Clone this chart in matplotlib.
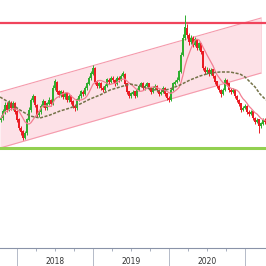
import numpy as np
import pandas as pd
import matplotlib
matplotlib.use("Agg")
import matplotlib.pyplot as plt

# ---- data ----
close = [18.2, 18.8, 19.5, 19.0, 19.7, 19.2, 19.6, 18.8, 18.0, 17.2,
         16.8, 16.2, 16.7, 18.0, 19.0, 20.0, 20.3, 19.5, 18.5, 18.8,
         19.4, 19.8, 19.2, 19.6, 20.0, 19.6, 21.2, 21.8, 20.8, 20.5,
         20.8, 20.3, 20.6, 20.0, 20.4, 19.8, 19.4, 19.2, 20.0, 20.4,
         20.8, 20.6, 21.2, 21.6, 22.2, 22.6, 23.2, 21.8, 21.4, 21.6,
         21.2, 21.0, 21.4, 22.0, 21.8, 22.2, 22.0, 21.6, 22.2, 22.0,
         22.4, 22.6, 21.6, 20.8, 20.4, 20.6, 20.8, 20.4, 21.0, 21.4,
         21.6, 21.2, 21.4, 21.6, 21.2, 20.8, 21.2, 21.4, 21.0, 20.6,
         20.8, 21.2, 20.6, 20.2, 20.0, 21.0, 21.6, 21.8, 22.0, 22.8,
         24.5, 26.2, 27.2, 26.5, 25.8, 26.2, 25.5, 26.0, 25.2, 25.6,
         24.8, 23.2, 22.8, 23.0, 22.6, 23.0, 22.4, 21.8, 21.4, 21.0,
         20.6, 21.0, 22.0, 21.6, 21.0, 20.8, 21.0, 20.4, 20.0, 19.6,
         19.0, 19.2, 19.4, 18.8, 18.6, 18.8, 18.2, 17.8, 18.0, 17.4,
         17.6, 18.0, 17.8]
high = [18.5, 19.1, 19.8, 19.8, 20.0, 19.9, 19.9, 19.8, 19.0, 18.2,
        17.4, 17.0, 16.9, 18.2, 19.3, 20.2, 20.6, 20.4, 19.6, 19.0,
        19.6, 20.1, 19.9, 19.8, 20.3, 20.1, 21.5, 22.1, 21.9, 21.0,
        21.0, 21.0, 20.8, 20.7, 20.6, 20.5, 20.0, 19.6, 20.2, 20.6,
        21.0, 21.0, 21.4, 21.8, 22.4, 22.9, 23.5, 23.3, 22.0, 21.8,
        21.8, 21.4, 21.6, 22.2, 22.2, 22.4, 22.4, 22.1, 22.4, 22.4,
        22.6, 22.9, 22.7, 21.7, 20.9, 20.8, 21.0, 20.9, 21.2, 21.6,
        21.8, 21.8, 21.6, 21.8, 21.7, 21.3, 21.4, 21.6, 21.5, 21.1,
        21.0, 21.4, 21.3, 20.7, 20.4, 21.2, 21.8, 22.0, 22.3, 23.0,
        24.8, 26.6, 28.5, 27.6, 26.7, 26.5, 26.4, 26.3, 26.1, 25.8,
        25.7, 24.9, 23.4, 23.3, 23.2, 23.2, 23.1, 22.5, 21.9, 21.5,
        21.1, 21.2, 22.2, 22.1, 21.7, 21.2, 21.2, 21.1, 20.5, 20.1,
        19.7, 19.4, 19.6, 19.5, 19.0, 19.0, 18.9, 18.3, 18.2, 18.1,
        17.8, 18.2, 18.2]
low = [17.8, 18.0, 18.6, 18.8, 18.9, 19.0, 19.0, 18.6, 17.8, 17.0,
       16.5, 16.0, 16.1, 16.5, 17.9, 18.8, 19.8, 19.3, 18.3, 18.3,
       18.6, 19.3, 19.0, 19.0, 19.5, 19.4, 19.5, 21.0, 20.6, 20.3,
       20.3, 20.1, 20.1, 19.8, 19.8, 19.6, 19.2, 18.9, 19.0, 19.9,
       20.2, 20.4, 20.5, 21.0, 21.5, 22.0, 22.5, 21.6, 21.2, 21.2,
       21.0, 20.8, 20.9, 21.3, 21.6, 21.7, 21.8, 21.4, 21.5, 21.8,
       21.9, 22.3, 21.4, 20.6, 20.2, 20.2, 20.5, 20.2, 20.3, 20.9,
       21.3, 21.0, 21.0, 21.3, 21.0, 20.6, 20.7, 21.0, 20.8, 20.4,
       20.5, 20.7, 20.4, 20.0, 19.8, 19.9, 20.9, 21.5, 21.7, 21.9,
       22.7, 24.4, 26.0, 26.2, 25.5, 25.6, 25.3, 25.4, 25.0, 25.0,
       24.6, 23.0, 22.6, 22.6, 22.4, 22.5, 22.2, 21.6, 21.2, 20.8,
       20.3, 20.5, 20.9, 21.4, 20.8, 20.6, 20.7, 20.2, 19.8, 19.4,
       18.8, 18.9, 19.1, 18.6, 18.4, 18.5, 18.0, 17.6, 17.7, 16.7,
       17.2, 17.5, 17.6]
first_open = 18.0
start_year = 2017.789           # first candle (decimal year)
candle_step = 2 / 76            # years per candle

long_ma_x = [2017.776, 2017.908, 2018.039, 2018.171, 2018.303, 2018.434, 2018.566,
             2018.697, 2018.829, 2018.961, 2019.092, 2019.224, 2019.355, 2019.487,
             2019.618, 2019.750, 2019.882, 2020.013, 2020.145, 2020.276, 2020.408,
             2020.539, 2020.671, 2020.803, 2020.934, 2021.000, 2021.066, 2021.132,
             2021.197, 2021.276]
long_ma_y = [20.3, 19.7, 19.0, 18.4, 18.2, 18.5, 18.9, 19.2, 19.6, 20.1,
             20.5, 21.0, 21.3, 21.6, 21.4, 21.1, 20.9, 21.1, 21.5, 22.0,
             22.4, 22.7, 22.8, 22.8, 22.6, 22.3, 21.8, 21.3, 20.6, 20.0]

resistance = 27.73
support = 15.23
channel_x = [2017.776, 2021.211]
channel_upper = [20.8, 28.2]
channel_lower = [15.2, 22.7]

years = [2018, 2019, 2020, 2021]
year_labels = ["2018", "2019", "2020"]

# ---- figure ----
fig = plt.figure(figsize=(2.66, 2.66), dpi=100)
ax = fig.add_axes([0, 18.5 / 266, 1, 247.5 / 266])

n = len(close)
xs = start_year + np.arange(n) * candle_step
c = np.array(close)
o = np.concatenate([[first_open], c[:-1]])
h = np.array(high)
l = np.array(low)

# channel
ax.fill_between(channel_x, channel_lower, channel_upper, color="#fde1e7", lw=0, zorder=1)
ax.plot(channel_x, channel_upper, color="#f59aac", lw=0.8, zorder=2)
ax.plot(channel_x, channel_lower, color="#f59aac", lw=0.8, zorder=2)
ax.plot([channel_x[1], channel_x[1]], [channel_lower[1], channel_upper[1]],
        color="#fbd0d8", lw=0.6, zorder=2)

# horizontal levels
ax.axhline(resistance, color="#f0445c", lw=1.6, zorder=3)
ax.axhline(support, color="#92d050", lw=2.2, zorder=3)

# candles
up = c >= o
cols = np.where(up, "#2fae2f", "#ea1c24")
ax.vlines(xs, l, h, colors=cols, lw=0.7, zorder=4)
ax.bar(xs, np.abs(c - o) + 0.05, bottom=np.minimum(o, c), width=candle_step * 0.8,
       color=cols, lw=0, zorder=4)

# moving averages
short_ma = pd.Series(close).rolling(8, min_periods=1).mean()
ax.plot(xs, short_ma, color="#f27f92", lw=0.9, zorder=5)
ax.plot(long_ma_x, long_ma_y, color="#747248", lw=1.1, ls=(0, (2, 1)), zorder=5)

# axes styling
for s in ["top", "left", "right"]:
    ax.spines[s].set_visible(False)
ax.spines["bottom"].set_color("#8a93a8")
ax.spines["bottom"].set_linewidth(0.8)
ax.set_yticks([])
ax.set_xticks(years)
ax.set_xticklabels([])
ax.set_xticks([y + q for y in [2017] + years[:-1] for q in (0.25, 0.5, 0.75)], minor=True)
ax.tick_params(axis="x", which="major", length=14, width=0.7, color="#b4bac8")
ax.tick_params(axis="x", which="minor", length=2.2, width=0.6, color="#9aa2b4")
ax.set_xlim(2017.776, 2021.276)
ax.set_ylim(5.25, 30.0)
for y, lab in zip(years[:-1], year_labels):
    ax.text(y + 0.5, -13.5 / 247.5, lab, transform=ax.get_xaxis_transform(),
            ha="center", va="center", fontsize=5.5, color="#333333")

fig.savefig("out.png", dpi=100)
